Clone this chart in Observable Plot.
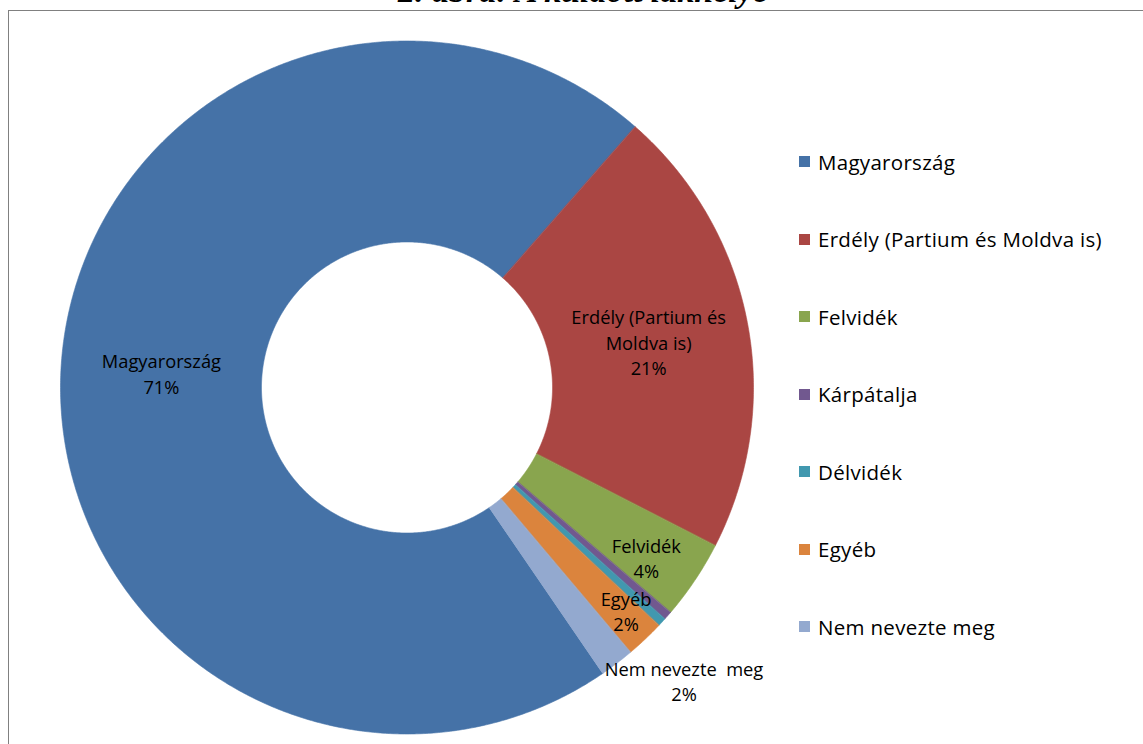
<!DOCTYPE html>
<html>
<head>
<meta charset="utf-8">
<script src="https://cdn.jsdelivr.net/npm/d3@7"></script>
<script src="https://cdn.jsdelivr.net/npm/@observablehq/plot@0.6"></script>
<style>
  html, body { margin: 0; padding: 0; background: #fff; }
  #wrap { position: relative; width: 1143px; height: 744px; overflow: hidden; background: #fff; }
  #frame { position: absolute; left: 8px; top: 10px; width: 1300px; height: 900px; border: 1px solid #808080; box-sizing: border-box; }
  #title { position: absolute; left: 0; top: -26px; width: 1166px; text-align: center; font: bold italic 34px/34px "Liberation Serif", "Times New Roman", serif; color: #000; white-space: nowrap; }
  #chart { position: absolute; left: 0; top: 0; }
  #legend { position: absolute; left: 799px; top: 123px; font-family: "Open Sans", Lato, sans-serif; font-size: 20.5px; letter-spacing: 0.3px; color: #000; }
  #legend .row { height: 77.5px; display: flex; align-items: center; }
  #legend .sw { width: 11px; height: 11px; margin-right: 8px; flex: none; }
</style>
</head>
<body>
<div id="wrap">
  <div id="frame"></div>
  <div id="title">2. ábra: A küldött lakhelye</div>
  <div id="chart"></div>
  <div id="legend"></div>
</div>
<script>
// ---- data ----
const categories = ["Magyarország", "Erdély (Partium és Moldva is)", "Felvidék", "Kárpátalja", "Délvidék", "Egyéb", "Nem nevezte meg"];
const values = [71.0, 21.1, 3.7, 0.4, 0.4, 1.8, 1.6];
const sliceLabels = ["Magyarország", "Erdély (Partium és\nMoldva is)", "Felvidék", "Kárpátalja", "Délvidék", "Egyéb", "Nem nevezte  meg"];
const colors = ["#4572A7", "#AA4643", "#89A54E", "#71588F", "#4198AF", "#DB843D", "#93A9CF"];

// ---- layout / style ----
const START = 145.6 * Math.PI / 180; // first slice starts here (clockwise from 12 o'clock)
const INNER = 0.42;                  // hole radius as fraction of outer radius
const STEP = 0.4 * Math.PI / 180;
const labelNudge = {
  "Felvidék": [35, 33],
  "Egyéb": [50, 44],
  "Nem nevezte meg": [128, 97]
};
const FONT = '"Open Sans", Lato, sans-serif';

const rows = categories.map((c, i) => ({ name: c, value: values[i], label: sliceLabels[i] }));
const arcs = d3.pie().sort(null).value(d => d.value)
  .startAngle(START).endAngle(START + 2 * Math.PI)(rows);

const pts = [];
arcs.forEach(a => {
  const n = Math.max(2, Math.ceil((a.endAngle - a.startAngle) / STEP));
  for (let k = 0; k <= n; k++) {
    const t = a.startAngle + (a.endAngle - a.startAngle) * k / n;
    pts.push({ name: a.data.name, x: Math.sin(t), y: Math.cos(t) });
  }
  for (let k = n; k >= 0; k--) {
    const t = a.startAngle + (a.endAngle - a.startAngle) * k / n;
    pts.push({ name: a.data.name, x: INNER * Math.sin(t), y: INNER * Math.cos(t) });
  }
});

const mid = (1 + INNER) / 2;
const labels = arcs
  .filter(a => Math.round(a.data.value) >= 1)
  .map(a => {
    const t = (a.startAngle + a.endAngle) / 2;
    return { name: a.data.name, x: mid * Math.sin(t), y: mid * Math.cos(t),
             text: a.data.label + "\n" + Math.round(a.data.value) + "%" };
  });

const textMarks = labels.map(d => {
  const [dx, dy] = labelNudge[d.name] || [0, 0];
  return Plot.text([d], {
    x: "x", y: "y", text: "text", dx, dy,
    fontSize: 18.3, lineHeight: 1.4, fill: "#000", fontFamily: FONT
  });
});

const chart = Plot.plot({
  width: 1143,
  height: 744,
  margin: 0,
  style: { background: "transparent", fontFamily: FONT },
  x: { domain: [-1, 1], range: [60, 753], axis: null },
  y: { domain: [-1, 1], range: [733.5, 40.5], axis: null },
  color: { domain: categories, range: colors },
  marks: [
    Plot.line(pts, { x: "x", y: "y", z: "name", fill: "name", stroke: "name", strokeWidth: 0.6, curve: "linear-closed" }),
    ...textMarks
  ]
});
document.getElementById("chart").appendChild(chart);

// legend
const color = chart.scale("color");
const leg = document.getElementById("legend");
categories.forEach(c => {
  const row = document.createElement("div");
  row.className = "row";
  const sw = document.createElement("span");
  sw.className = "sw";
  sw.style.background = color.apply(c);
  const tx = document.createElement("span");
  tx.textContent = c;
  row.appendChild(sw);
  row.appendChild(tx);
  leg.appendChild(row);
});
</script>
</body>
</html>
